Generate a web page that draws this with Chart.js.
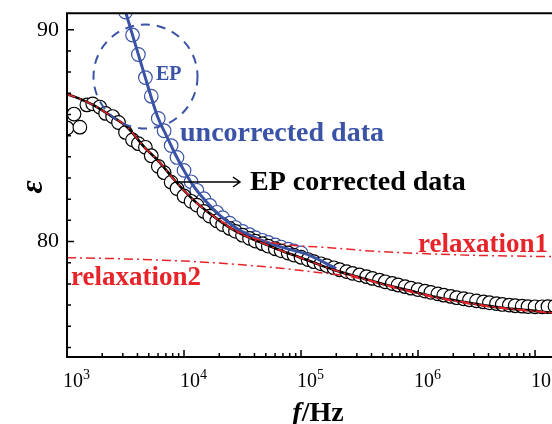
<!DOCTYPE html>
<html>
<head>
<meta charset="utf-8">
<script src="https://cdn.jsdelivr.net/npm/chart.js@4.4.0/dist/chart.umd.min.js"></script>
<style>
  html, body { margin: 0; padding: 0; background: #fff; overflow: hidden; }
  #wrap { position: relative; width: 580px; height: 424px; }
</style>
</head>
<body>
<div id="wrap"><canvas id="myChart"></canvas></div>
<script>
// values: log10(f/Hz) and permittivity
const correctedLogF = [3.00, 3.06, 3.11, 3.17, 3.22, 3.28, 3.33, 3.39, 3.44, 3.50, 3.56, 3.61, 3.67, 3.72, 3.78, 3.83, 3.89, 3.94,
    4.00, 4.06, 4.11, 4.17, 4.22, 4.28, 4.33, 4.39, 4.44, 4.50, 4.56, 4.61, 4.67, 4.72, 4.78, 4.83, 4.89, 4.94,
    5.00, 5.06, 5.11, 5.17, 5.22, 5.28, 5.33, 5.39, 5.44, 5.50, 5.56, 5.61, 5.67, 5.72, 5.78, 5.83, 5.89, 5.94,
    6.00, 6.06, 6.11, 6.17, 6.22, 6.28, 6.33, 6.39, 6.44, 6.50, 6.56, 6.61, 6.67, 6.72, 6.78, 6.83, 6.89, 6.94,
    7.00, 7.06, 7.11, 7.17, 7.22, 7.28];
const correctedEps = [85.36, 86.02, 85.40, 86.45, 86.50, 86.35, 86.05, 85.90, 85.62, 85.15, 84.80, 84.62, 84.45, 84.05, 83.55, 83.25, 82.80, 82.50,
    82.15, 81.90, 81.72, 81.42, 81.20, 80.98, 80.80, 80.62, 80.48, 80.30, 80.15, 80.02, 79.90, 79.78, 79.66, 79.56, 79.46, 79.36,
    79.26, 79.15, 79.05, 78.95, 78.86, 78.76, 78.67, 78.58, 78.50, 78.42, 78.34, 78.26, 78.18, 78.10, 78.02, 77.95, 77.87, 77.80,
    77.73, 77.66, 77.60, 77.53, 77.47, 77.41, 77.35, 77.30, 77.25, 77.20, 77.15, 77.11, 77.07, 77.03, 77.00, 76.97, 76.95, 76.93,
    76.92, 76.92, 76.93, 76.95, 76.97, 77.00];

const uncorrectedLogF = [3.50, 3.56, 3.61, 3.67, 3.72, 3.78, 3.83, 3.89, 3.94, 4.00, 4.06, 4.11, 4.17, 4.22,
    4.28, 4.33, 4.39, 4.44, 4.50, 4.56, 4.61, 4.67, 4.72, 4.78, 4.83, 4.89, 4.94, 5.00];
const uncorrectedEps = [90.83, 89.75, 88.83, 87.74, 86.86, 85.81, 85.23, 84.53, 83.97, 83.36, 82.82, 82.42, 82.02, 81.71,
    81.38, 81.13, 80.87, 80.66, 80.48, 80.32, 80.18, 80.06, 79.96, 79.84, 79.74, 79.64, 79.56, 79.46];

const fitLogF = [3.00, 3.10, 3.222, 3.35, 3.513, 3.667, 3.795, 3.923, 4.077, 4.222, 4.419, 4.56, 4.70, 4.85, 4.991, 5.13,
    5.27, 5.42, 5.564, 5.70, 5.846, 5.99, 6.128, 6.27, 6.41, 6.55, 6.70, 6.83, 6.957, 7.145, 7.30];
const fitEps = [86.96, 86.76, 86.45, 86.02, 85.41, 84.42, 83.72, 82.87, 81.98, 81.32, 80.56, 80.18, 79.86, 79.53, 79.25, 78.96,
    78.68, 78.43, 78.21, 78.00, 77.79, 77.60, 77.41, 77.26, 77.13, 77.00, 76.89, 76.81, 76.75, 76.64, 76.58];

const uncorrFitLogF = [3.40, 3.504, 3.65, 3.778, 3.846, 3.915, 3.991, 4.085, 4.197, 4.308, 4.453, 4.607, 4.821, 5.077, 5.30];
const uncorrFitEps = [92.70, 90.78, 88.09, 85.84, 85.04, 84.24, 83.44, 82.59, 81.84, 81.22, 80.61, 80.19, 79.76, 79.34, 78.72];

const relax1LogF = [4.30, 4.45, 4.58, 4.72, 4.90, 5.27, 5.60, 6.00, 6.50, 7.00, 7.30];
const relax1Eps = [81.05, 80.50, 80.18, 79.98, 79.84, 79.70, 79.55, 79.44, 79.35, 79.30, 79.28];

const relax2LogF = [3.00, 3.50, 4.00, 4.14, 4.50, 4.85, 5.10, 5.42, 5.60, 5.85, 6.13, 6.41, 6.70, 6.96, 7.30];
const relax2Eps = [79.24, 79.18, 79.08, 79.04, 78.90, 78.73, 78.57, 78.35, 78.12, 77.74, 77.37, 77.09, 76.86, 76.72, 76.56];

const decades = [3, 4, 5, 6, 7];
const yTickValues = [80, 90];

const BLUE = '#3a53a6';
const RED = '#e62429';
const SERIF = '"Liberation Serif", "Times New Roman", serif';

function toPoints(logF, eps) {
    return logF.map((l, i) => ({ x: Math.pow(10, l), y: eps[i] }));
}

const decorations = {
    id: 'decorations',
    afterDatasetsDraw(chart) {
        const { ctx, chartArea: a, scales: { x, y } } = chart;
        ctx.save();

        // frame
        ctx.strokeStyle = '#000';
        ctx.lineWidth = 2;
        ctx.beginPath();
        ctx.moveTo(a.right, a.top);
        ctx.lineTo(a.left, a.top);
        ctx.lineTo(a.left, a.bottom);
        ctx.lineTo(a.right, a.bottom);
        ctx.stroke();

        // inward ticks
        ctx.lineWidth = 1.5;
        ctx.beginPath();
        decades.forEach(d => {
            for (let k = 1; k <= 9; k++) {
                const v = k * Math.pow(10, d);
                if (v > x.max) break;
                const px = x.getPixelForValue(v);
                ctx.moveTo(px, a.bottom);
                ctx.lineTo(px, a.bottom - (k === 1 ? 7 : 4));
            }
        });
        for (let v = Math.ceil(y.min); v <= y.max; v++) {
            const py = y.getPixelForValue(v);
            ctx.moveTo(a.left, py);
            ctx.lineTo(a.left + (v % 10 === 0 ? 7 : 4), py);
        }
        ctx.stroke();

        // x tick labels 10^n
        ctx.fillStyle = '#000';
        ctx.textAlign = 'left';
        ctx.textBaseline = 'alphabetic';
        decades.forEach(d => {
            const px = x.getPixelForValue(Math.pow(10, d));
            ctx.font = '20px ' + SERIF;
            ctx.fillText('10', px - 4, 387);
            const w = ctx.measureText('10').width;
            ctx.font = '14px ' + SERIF;
            ctx.fillText(String(d), px - 4 + w, 379);
        });

        // axis titles
        ctx.font = 'italic bold 28px ' + SERIF;
        const fW = ctx.measureText('f').width;
        ctx.font = 'bold 28px ' + SERIF;
        const hzW = ctx.measureText('/Hz').width;
        const startX = 318 - (fW + hzW) / 2;
        ctx.font = 'italic bold 28px ' + SERIF;
        ctx.fillText('f', startX, 421);
        ctx.font = 'bold 28px ' + SERIF;
        ctx.fillText('/Hz', startX + fW, 421);

        ctx.save();
        ctx.translate(34, 187);
        ctx.rotate(-Math.PI / 2);
        ctx.textAlign = 'center';
        ctx.textBaseline = 'middle';
        ctx.font = 'italic bold 32px ' + SERIF;
        ctx.fillText('ε', 0, 0);
        ctx.restore();

        // dashed circle around EP
        const cx = x.getPixelForValue(Math.pow(10, 3.671));
        const cy = y.getPixelForValue(87.79);
        ctx.strokeStyle = BLUE;
        ctx.lineWidth = 2;
        ctx.setLineDash([9, 7]);
        ctx.beginPath();
        ctx.arc(cx, cy, 52, 0, Math.PI * 2);
        ctx.stroke();
        ctx.setLineDash([]);

        // arrow
        ctx.strokeStyle = '#000';
        ctx.lineWidth = 1.5;
        ctx.beginPath();
        ctx.moveTo(175, 182);
        ctx.lineTo(240, 182);
        ctx.moveTo(233, 177);
        ctx.lineTo(240, 182);
        ctx.lineTo(233, 187);
        ctx.stroke();

        // labels
        ctx.fillStyle = BLUE;
        ctx.font = 'bold 20px ' + SERIF;
        ctx.fillText('EP', 156, 80);
        ctx.font = 'bold 28px ' + SERIF;
        ctx.fillText('uncorrected data', 180, 141);
        ctx.fillStyle = '#000';
        ctx.fillText('EP corrected data', 250, 190);
        ctx.fillStyle = RED;
        ctx.font = 'bold 27px ' + SERIF;
        ctx.fillText('relaxation1', 418, 252);
        ctx.fillText('relaxation2', 71, 285);

        ctx.restore();
    }
};

const ctx = document.getElementById('myChart').getContext('2d');
const chart1 = new Chart(ctx, {
    type: 'scatter',
    data: {
        datasets: [
            {
                label: 'relaxation1',
                data: toPoints(relax1LogF, relax1Eps),
                showLine: true, borderColor: RED, borderWidth: 1.5, borderDash: [9, 4, 2, 4],
                pointRadius: 0, cubicInterpolationMode: 'monotone', clip: 0, order: 0
            },
            {
                label: 'relaxation2',
                data: toPoints(relax2LogF, relax2Eps),
                showLine: true, borderColor: RED, borderWidth: 1.5, borderDash: [9, 4, 2, 4],
                pointRadius: 0, cubicInterpolationMode: 'monotone', clip: 0, order: 0
            },
            {
                label: 'fit (red)',
                data: toPoints(fitLogF, fitEps),
                showLine: true, borderColor: RED, borderWidth: 1.5, borderDash: [9, 4, 2, 4],
                pointRadius: 0, cubicInterpolationMode: 'monotone', clip: 0, order: 1
            },
            {
                label: 'fit',
                data: toPoints(fitLogF, fitEps),
                showLine: true, borderColor: '#000', borderWidth: 2.6,
                pointRadius: 0, cubicInterpolationMode: 'monotone', clip: 0, order: 2
            },
            {
                label: 'uncorrected fit',
                data: toPoints(uncorrFitLogF, uncorrFitEps),
                showLine: true, borderColor: BLUE, borderWidth: 3,
                pointRadius: 0, cubicInterpolationMode: 'monotone', clip: 0, order: 3
            },
            {
                label: 'EP corrected data',
                data: toPoints(correctedLogF, correctedEps),
                pointRadius: 6.8, pointBorderWidth: 1.2, pointBorderColor: '#000',
                pointBackgroundColor: '#fff', clip: 0, order: 4
            },
            {
                label: 'uncorrected data',
                data: toPoints(uncorrectedLogF, uncorrectedEps),
                pointRadius: 6.8, pointBorderWidth: 1.2, pointBorderColor: BLUE,
                pointBackgroundColor: '#fff', clip: 0, order: 5
            }
        ]
    },
    options: {
        responsive: true,
        maintainAspectRatio: false,
        animation: false,
        devicePixelRatio: 1,
        events: [],
        layout: { padding: { top: 13, right: 11, left: 0, bottom: 0 } },
        plugins: { legend: { display: false }, tooltip: { enabled: false } },
        scales: {
            x: {
                type: 'logarithmic',
                min: 1000,
                max: 1.95e7,
                ticks: { display: false },
                grid: { display: false },
                border: { display: false },
                afterFit: s => { s.height = 67; }
            },
            y: {
                type: 'linear',
                min: 74.55,
                max: 90.78,
                afterBuildTicks: s => { s.ticks = yTickValues.map(v => ({ value: v })); },
                ticks: { color: '#000', padding: 0, font: { family: SERIF, size: 22 } },
                grid: { display: false },
                border: { display: false },
                afterFit: s => { s.width = 67; }
            }
        }
    },
    plugins: [decorations]
});
</script>
</body>
</html>
